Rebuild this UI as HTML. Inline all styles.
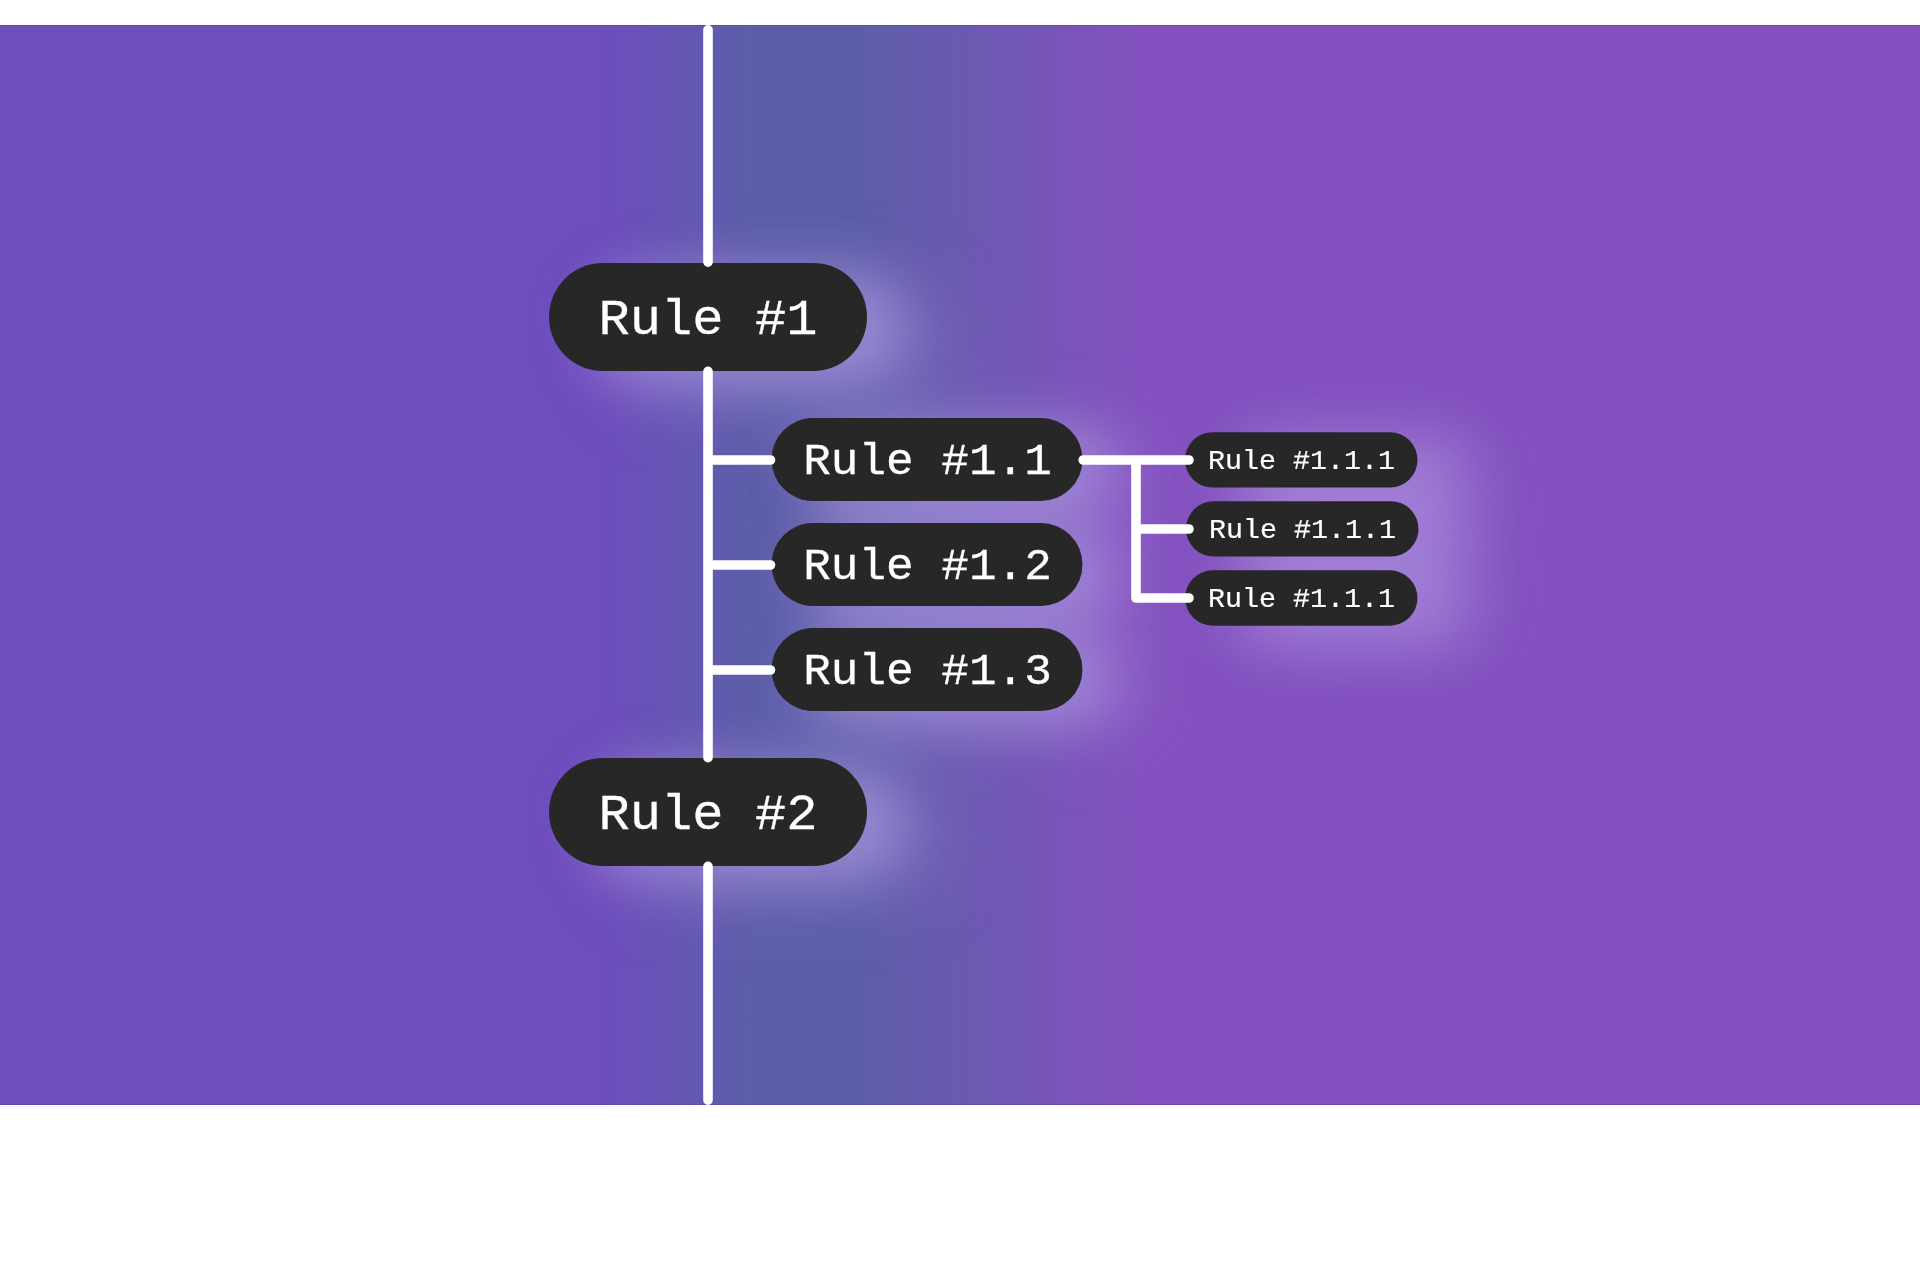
<!DOCTYPE html>
<html lang="en">
<head>
<meta charset="utf-8">
<title>Rules</title>
<style>
html,body{margin:0;padding:0;background:#fff;}
body{width:1920px;height:1280px;overflow:hidden;position:relative;}
svg{position:absolute;left:0;top:25px;display:block;}
text{font-family:"Liberation Mono","DejaVu Sans Mono",monospace;fill:#fff;text-anchor:middle;stroke:#fff;stroke-linejoin:round;}
.t1{font-size:51.5px;stroke-width:0.3px;}
.t2{font-size:45.5px;stroke-width:0.3px;}
.t3{font-size:28px;stroke-width:0.2px;}
</style>
</head>
<body>
<svg width="1920" height="1080" viewBox="0 0 1920 1080">
<defs>
<linearGradient id="bg" gradientUnits="userSpaceOnUse" x1="0" y1="0" x2="1920" y2="0">
<stop offset="0" stop-color="#6e4dbd"/>
<stop offset="0.3125" stop-color="#6e4dbd"/>
<stop offset="0.39" stop-color="#5d5ea9"/>
<stop offset="0.448" stop-color="#5d5ea9"/>
<stop offset="0.594" stop-color="#8351bf"/>
<stop offset="1" stop-color="#8351bf"/>
</linearGradient>
<filter id="w1" x="-100%" y="-300%" width="300%" height="700%"><feGaussianBlur stdDeviation="42"/></filter>
<filter id="b1" x="-50%" y="-100%" width="200%" height="300%"><feGaussianBlur stdDeviation="27"/></filter>
<filter id="b2" x="-50%" y="-100%" width="200%" height="300%"><feGaussianBlur stdDeviation="27"/></filter>
<filter id="b3" x="-50%" y="-150%" width="200%" height="400%"><feGaussianBlur stdDeviation="30"/></filter>
</defs>
<rect width="1920" height="1080" fill="url(#bg)"/>
<rect width="1920" height="1" fill="#2a1a90" opacity="0.15"/>
<rect y="1079" width="1920" height="1" fill="#2a1a90" opacity="0.15"/>
<g fill="#a98ce0" opacity="0.38">
<g filter="url(#w1)" transform="translate(72,24)"><rect x="549" y="238" width="318" height="108" rx="54.0" ry="54.0"/>
<rect x="549" y="733" width="318" height="108" rx="54.0" ry="54.0"/></g>
<g filter="url(#w1)" transform="translate(62,18)"><rect x="771.5" y="393" width="311" height="83" rx="41.5" ry="41.5"/>
<rect x="771.5" y="498" width="311" height="83" rx="41.5" ry="41.5"/>
<rect x="771.5" y="603" width="311" height="83" rx="41.5" ry="41.5"/></g>
<g filter="url(#w1)" transform="translate(70,16)"><rect x="1185" y="407.2" width="232.5" height="55.4" rx="27.7" ry="27.7"/>
<rect x="1186" y="476.2" width="232.5" height="55.4" rx="27.7" ry="27.7"/>
<rect x="1185" y="545.3" width="232.5" height="55.4" rx="27.7" ry="27.7"/></g>
</g>
<g fill="#bba8e8" opacity="0.5">
<g filter="url(#b1)" transform="translate(36,11)"><rect x="549" y="238" width="318" height="108" rx="54.0" ry="54.0"/>
<rect x="549" y="733" width="318" height="108" rx="54.0" ry="54.0"/></g>
<g filter="url(#b2)" transform="translate(30,11)"><rect x="771.5" y="393" width="311" height="83" rx="41.5" ry="41.5"/>
<rect x="771.5" y="498" width="311" height="83" rx="41.5" ry="41.5"/>
<rect x="771.5" y="603" width="311" height="83" rx="41.5" ry="41.5"/></g>
<g filter="url(#b3)" transform="translate(48,13)"><rect x="1185" y="407.2" width="232.5" height="55.4" rx="27.7" ry="27.7"/>
<rect x="1186" y="476.2" width="232.5" height="55.4" rx="27.7" ry="27.7"/>
<rect x="1185" y="545.3" width="232.5" height="55.4" rx="27.7" ry="27.7"/></g>
</g>
<g fill="#272727">
<rect x="549" y="238" width="318" height="108" rx="54.0" ry="54.0"/>
<rect x="549" y="733" width="318" height="108" rx="54.0" ry="54.0"/>
<rect x="771.5" y="393" width="311" height="83" rx="41.5" ry="41.5"/>
<rect x="771.5" y="498" width="311" height="83" rx="41.5" ry="41.5"/>
<rect x="771.5" y="603" width="311" height="83" rx="41.5" ry="41.5"/>
<rect x="1185" y="407.2" width="232.5" height="55.4" rx="27.7" ry="27.7"/>
<rect x="1186" y="476.2" width="232.5" height="55.4" rx="27.7" ry="27.7"/>
<rect x="1185" y="545.3" width="232.5" height="55.4" rx="27.7" ry="27.7"/>
</g>
<g fill="none" stroke="#fff" stroke-width="9.6" stroke-linecap="round" stroke-linejoin="round">
<path d="M708,4.8V237.2 M708,346.3V732.7 M708,841.3V1075.2
M708,435H770.5 M708,540H770.5 M708,645H770.5
M1083.2,435H1189 M1136,435V573H1189 M1136,504H1189"/>
</g>
<text class="t1" transform="translate(708,309.2) scale(1.012,0.985)">Rule #1</text>
<text class="t1" transform="translate(708,804.2) scale(1.012,0.985)">Rule #2</text>
<text class="t2" transform="translate(927.5,448.8) scale(1.012,0.985)">Rule #1.1</text>
<text class="t2" transform="translate(927.5,553.8) scale(1.012,0.985)">Rule #1.2</text>
<text class="t2" transform="translate(927.5,658.8) scale(1.012,0.985)">Rule #1.3</text>
<text class="t3" transform="translate(1301.5,443.8) scale(1.012,0.985)">Rule #1.1.1</text>
<text class="t3" transform="translate(1302.6,512.9) scale(1.012,0.985)">Rule #1.1.1</text>
<text class="t3" transform="translate(1301.5,581.8) scale(1.012,0.985)">Rule #1.1.1</text>
</svg>
</body>
</html>
